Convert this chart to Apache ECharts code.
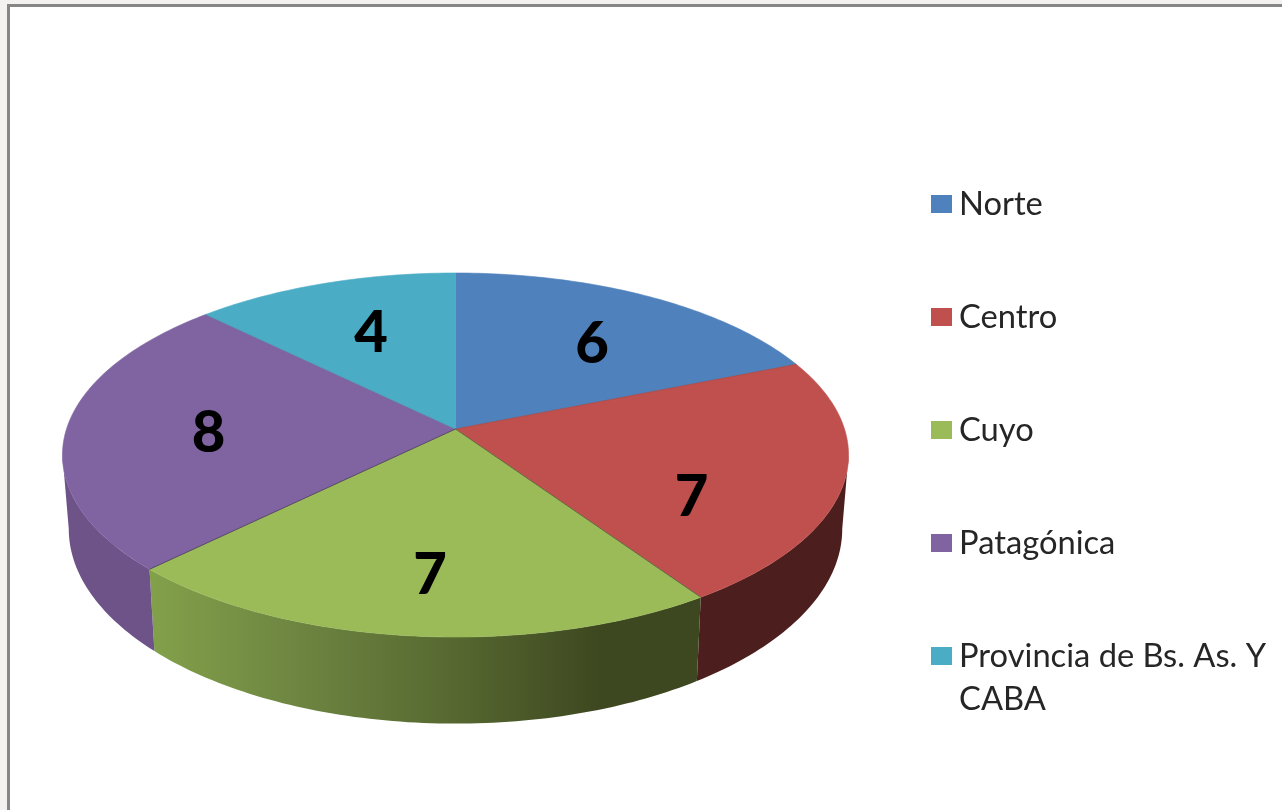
<!DOCTYPE html>
<html>
<head>
<meta charset="utf-8">
<title>Regiones</title>
<style>
  html, body { margin: 0; padding: 0; background: #f3f2f0; }
  #chart { width: 1282px; height: 810px; }
</style>
<script src="https://cdn.jsdelivr.net/npm/echarts@6/dist/echarts.min.js"></script>
</head>
<body>
<div id="chart"></div>
<script>
// datos
var categories = ['Norte', 'Centro', 'Cuyo', 'Patagónica', 'Provincia de Bs. As. Y CABA'];
var values = [6, 7, 7, 8, 4];

// colores y posicion de las etiquetas
var topColors = ['#4f81bd', '#c0504d', '#9bbb59', '#8064a2', '#4bacc6'];
var spokeAlpha = [0, 0.15, 0.5, 0.5, 0.1];
var labelRadius = [0.646, 0.675, 0.726, 0.634, 0.642];
var labelTurn = [2, 14.5, -1, -1, 1];

var total = values.reduce(function (a, b) { return a + b; }, 0);

// perspectiva del disco
var CX = 455.5, CY = 429, K = 389, A = -117, C = 0.1429;
// solo se ve el costado entre estos angulos
var FRONT_FROM = 98.2, FRONT_TO = 261.8;
// espacio angosto entre el cuadrito y el texto
var GAP = '\u200a';

function topPoint(deg, r) {
  var t = deg * Math.PI / 180;
  var x = r * Math.sin(t), y = r * Math.cos(t);
  var d = 1 + C * y;
  return [CX + K * x / d, (A * y + CY) / d];
}
function bottomPoint(deg) {
  var p = topPoint(deg, 1);
  return [CX + 0.984 * (p[0] - CX), 1.07 * p[1] + 42];
}
function arc(from, to, fn) {
  var pts = [];
  var n = Math.ceil(to - from);
  for (var i = 0; i <= n; i++) {
    pts.push(fn(from + (to - from) * i / n));
  }
  return pts;
}
function rimPoint(d) {
  return topPoint(d, 1);
}

var sideColors = [
  '#2f4d71',
  '#4c1e1d',
  new echarts.graphic.LinearGradient(155, 0, 700, 0, [
    { offset: 0, color: '#82a04a' },
    { offset: 0.28, color: '#6c8340' },
    { offset: 0.55, color: '#566830' },
    { offset: 0.82, color: '#3d4720' },
    { offset: 1, color: '#3d4720' }
  ], true),
  '#6d5388',
  '#2d6776'
];

function renderSlice(params, api) {
  var i = params.seriesIndex;
  var start = api.value(0), end = api.value(1);
  var rim = arc(start, end, rimPoint);
  var tip = topPoint(0, 0);
  var mid = (start + end) / 2 + labelTurn[i];
  var lp = topPoint(mid, labelRadius[i]);
  var children = [];

  var a = Math.max(start, FRONT_FROM), b = Math.min(end, FRONT_TO);
  if (a < b) {
    children.push({
      type: 'polygon',
      z2: 1,
      shape: { points: arc(a, b, rimPoint).concat(arc(a, b, bottomPoint).reverse()) },
      style: { fill: sideColors[i] }
    });
  }
  children.push({
    type: 'polygon',
    z2: 10,
    shape: { points: [tip].concat(rim) },
    style: { fill: topColors[i], stroke: topColors[i], lineWidth: 0.6 }
  });
  children.push({
    type: 'line',
    z2: 11,
    shape: { x1: rim[0][0], y1: rim[0][1], x2: tip[0], y2: tip[1] },
    style: { stroke: 'rgba(40,30,40,' + spokeAlpha[i] + ')', lineWidth: 1 }
  });
  children.push({
    type: 'text',
    z2: 20,
    x: lp[0],
    y: lp[1] + 2,
    style: {
      text: String(api.value(2)),
      fill: '#000',
      font: '900 58px Lato',
      align: 'center',
      verticalAlign: 'middle'
    }
  });
  return { type: 'group', children: children };
}

var acc = 0;
var seriesList = categories.map(function (name, i) {
  var start = acc / total * 360;
  acc += values[i];
  return {
    name: name,
    type: 'custom',
    coordinateSystem: 'none',
    renderItem: renderSlice,
    itemStyle: { color: topColors[i] },
    silent: true,
    data: [[start, acc / total * 360, values[i]]]
  };
});

var myChart = echarts.init(document.getElementById('chart'));
var option = {
  animation: false,
  color: topColors,
  graphic: [{
    type: 'rect',
    z: -1,
    shape: { x: 8.5, y: 5.5, width: 1400, height: 900 },
    style: { fill: '#fff', stroke: '#868686', lineWidth: 3 }
  }],
  legend: {
    orient: 'vertical',
    left: 931,
    top: 139.5,
    padding: 0,
    itemWidth: 21,
    itemHeight: 18,
    itemGap: -16,
    icon: 'rect',
    selectedMode: false,
    // tres renglones en todos para que el cuadrito quede junto al primero
    formatter: function (name) {
      var parts = name.split(' Y ');
      if (parts.length > 1) {
        return ' \n' + GAP + parts[0] + ' Y\n' + GAP + parts[1];
      }
      return ' \n' + GAP + name + '\n ';
    },
    textStyle: { color: '#262626', fontFamily: 'Lato', fontSize: 32.7, lineHeight: 43 },
    data: categories
  },
  series: seriesList
};
myChart.setOption(option);
window.addEventListener('resize', function () {
  myChart.resize();
});
</script>
</body>
</html>
